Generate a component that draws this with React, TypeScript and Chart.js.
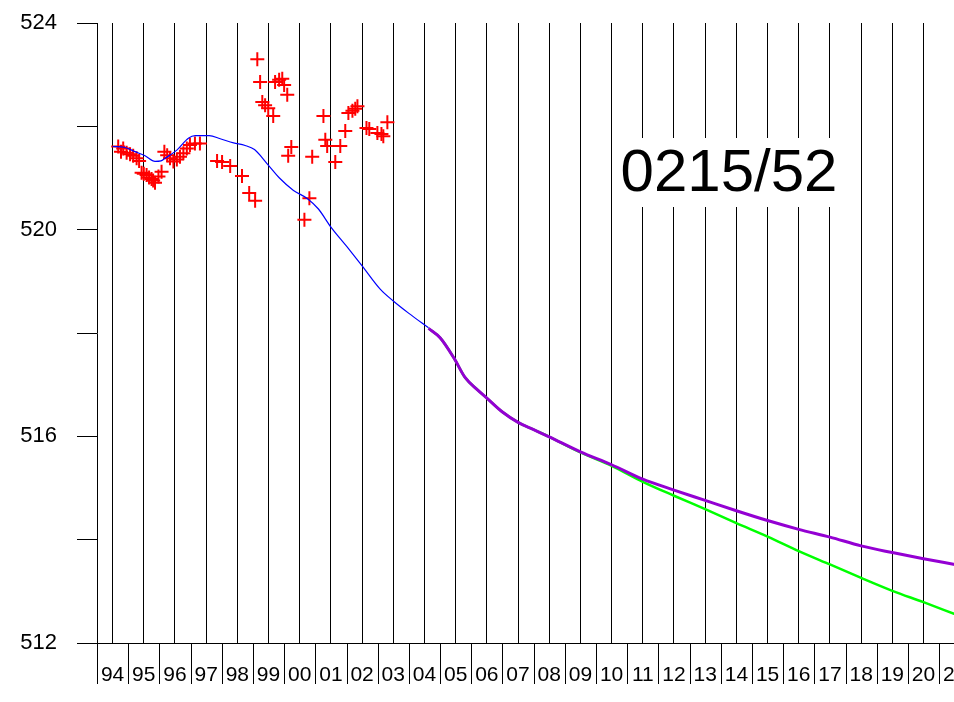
import { useEffect, useRef } from 'react';
import { Chart, registerables } from 'chart.js';

Chart.register(...registerables);

const FONT = "'Liberation Sans', Arial, sans-serif";

// Year categories along the bottom (label centres sit at i + 0.5 on the year axis)
const yearLabels = ['94', '95', '96', '97', '98', '99', '00', '01', '02', '03', '04', '05', '06', '07', '08', '09', '10', '11', '12', '13', '14', '15', '16', '17', '18', '19', '20', '21'];
// Labelled y ticks (others are unlabelled minor ticks)
const yLabelled = [512, 516, 520, 524];
const wellId = '0215/52';

// Simulated (calibration) curve - blue
const blueT = [0.5, 0.9, 1.22, 1.54, 1.86, 2.05, 2.18, 2.56, 2.93, 3.15, 3.6, 3.95, 4.38, 4.75, 5.05, 5.45, 5.85, 6.3, 6.75, 7.1, 7.5, 8.0, 8.5, 9.08, 9.5, 10.0, 10.63];
const blueV = [521.61, 521.59, 521.51, 521.43, 521.32, 521.33, 521.38, 521.54, 521.77, 521.82, 521.82, 521.76, 521.68, 521.63, 521.55, 521.28, 521.0, 520.76, 520.6, 520.4, 520.05, 519.68, 519.3, 518.85, 518.62, 518.38, 518.1];

// Prognosis A - purple
const purpleT = [10.63, 11.0, 11.45, 11.8, 12.2, 12.5, 13.0, 13.5, 14.0, 14.5, 15.5, 16.5, 17.5, 18.5, 19.5, 20.5, 21.5, 22.5, 23.5, 24.5, 25.5, 26.5, 27.5];
const purpleV = [518.09, 517.91, 517.51, 517.14, 516.9, 516.74, 516.47, 516.27, 516.13, 515.99, 515.7, 515.45, 515.17, 514.96, 514.76, 514.56, 514.37, 514.2, 514.05, 513.88, 513.75, 513.63, 513.52];

// Prognosis B - green
const greenT = [10.63, 11.0, 11.45, 11.8, 12.2, 12.5, 13.0, 13.5, 14.0, 14.5, 15.5, 16.5, 17.5, 18.5, 19.5, 20.5, 21.5, 22.5, 23.5, 24.5, 25.5, 26.5, 27.5];
const greenV = [518.09, 517.91, 517.51, 517.14, 516.9, 516.74, 516.47, 516.27, 516.13, 515.99, 515.69, 515.43, 515.12, 514.85, 514.59, 514.32, 514.06, 513.78, 513.52, 513.26, 513.01, 512.79, 512.56];

// Observed heads - red crosses
const obsT = [0.68, 0.84, 0.77, 0.95, 1.06, 1.16, 1.27, 1.35, 1.43, 1.5, 1.59, 1.67, 1.75, 1.8, 1.86, 1.97, 2.07, 2.16, 2.25, 2.34, 2.45, 2.56, 2.66, 2.77, 2.88, 2.98, 3.14, 3.3,
  3.85, 4.01, 4.27, 4.65, 4.88, 5.07,
  5.14, 5.23, 5.71, 5.84, 5.94, 6.0, 6.1, 5.3, 5.39, 5.49, 5.65,
  6.23, 6.13, 6.9, 6.81, 6.65, 7.26, 7.32, 7.38, 7.8, 7.64, 7.96, 8.06, 8.19, 8.28, 8.35, 8.64, 8.73, 8.99, 9.12, 9.18, 9.31];
const obsV = [521.61, 521.57, 521.51, 521.49, 521.46, 521.43, 521.38, 521.33, 521.1, 521.08, 521.06, 521.01, 520.98, 520.95, 520.91, 521.03, 521.12, 521.51, 521.44, 521.38, 521.32, 521.36, 521.41, 521.48, 521.57, 521.64, 521.67, 521.67,
  521.33, 521.31, 521.23, 521.04, 520.71, 520.56,
  523.3, 522.86, 522.86, 522.9, 522.92, 522.8, 522.61, 522.47, 522.41, 522.35, 522.2,
  521.6, 521.43, 521.41, 520.61, 520.19, 522.2, 521.74, 521.62, 521.62, 521.31, 521.91, 522.26, 522.3, 522.34, 522.39, 521.97, 521.95, 521.87, 521.85, 521.81, 522.08];

const pts = (t: number[], v: number[]) => t.map((x, i) => ({ x, y: v[i] }));

const decorPlugin = {
  id: 'decor',
  afterDraw(chart: any) {
    const { ctx, chartArea, scales } = chart;
    const xs = scales.x;
    ctx.save();
    // year separators below the axis
    ctx.strokeStyle = '#000';
    ctx.lineWidth = 1;
    for (let k = 0; k <= yearLabels.length; k++) {
      const px = Math.round(xs.getPixelForValue(k)) + 0.5;
      ctx.beginPath();
      ctx.moveTo(px, chartArea.bottom);
      ctx.lineTo(px, chartArea.bottom + 41);
      ctx.stroke();
    }
    // well id label with white box
    ctx.fillStyle = '#fff';
    ctx.fillRect(613, 138, 233, 69);
    ctx.fillStyle = '#000';
    ctx.font = `60px ${FONT}`;
    ctx.textAlign = 'center';
    ctx.textBaseline = 'middle';
    ctx.fillText(wellId, 729, 174);
    ctx.restore();
  },
};

export default function App() {
  const ref = useRef<HTMLCanvasElement>(null);
  useEffect(() => {
    const chart = new Chart(ref.current!, {
      type: 'line',
      data: {
        datasets: [
          {
            data: pts(blueT, blueV),
            borderColor: '#0000ff',
            borderWidth: 1.2,
            pointRadius: 0,
            cubicInterpolationMode: 'monotone',
            fill: false,
          },
          {
            data: pts(purpleT, purpleV),
            borderColor: '#9400d3',
            borderWidth: 3,
            pointRadius: 0,
            cubicInterpolationMode: 'monotone',
            fill: false,
          },
          {
            data: pts(greenT, greenV),
            borderColor: '#00ff00',
            borderWidth: 2.5,
            pointRadius: 0,
            cubicInterpolationMode: 'monotone',
            fill: false,
          },
          {
            type: 'scatter',
            data: pts(obsT, obsV),
            showLine: false,
            pointStyle: 'cross',
            pointRadius: 7,
            pointBorderWidth: 2,
            borderColor: '#ff0000',
            backgroundColor: '#ff0000',
            borderWidth: 2,
          } as any,
        ],
      },
      options: {
        responsive: false,
        animation: false,
        devicePixelRatio: 1,
        layout: { padding: { top: 23, right: 45.3, left: 0, bottom: 0 } },
        plugins: { legend: { display: false }, tooltip: { enabled: false } },
        scales: {
          x: {
            type: 'linear',
            min: 0,
            max: 27.5,
            afterBuildTicks: (s: any) => {
              s.ticks = yearLabels.map((_, i) => ({ value: i + 0.5 }));
            },
            afterFit: (s: any) => {
              s.height = 59;
              s.paddingLeft = 0;
              s.paddingRight = 0;
            },
            grid: { color: '#000', lineWidth: 1, drawTicks: false, drawOnChartArea: true },
            border: { display: true, color: '#000', width: 1 },
            ticks: {
              autoSkip: false,
              maxRotation: 0,
              minRotation: 0,
              padding: 20,
              color: '#000',
              font: { family: FONT, size: 21 },
              callback: (_v: any, i: number) => yearLabels[i],
            },
          },
          y: {
            type: 'linear',
            min: 512,
            max: 524,
            afterFit: (s: any) => {
              s.width = 97;
              s.paddingTop = 0;
              s.paddingBottom = 0;
            },
            grid: { color: '#000', lineWidth: 1, drawOnChartArea: false, drawTicks: true, tickLength: 20 },
            border: { display: true, color: '#000', width: 1 },
            ticks: {
              stepSize: 2,
              padding: 20,
              color: '#000',
              font: { family: FONT, size: 22 },
              callback: (v: any) => (yLabelled.includes(Number(v)) ? String(v) : ''),
            },
          },
        },
      },
      plugins: [decorPlugin],
    } as any);
    return () => chart.destroy();
  }, []);
  return (
    <div style={{ position: 'fixed', left: 0, top: 0, width: 954, height: 702, overflow: 'hidden', background: '#fff' }}>
      <canvas ref={ref} width={1000} height={702} style={{ display: 'block', width: 1000, height: 702 }} />
    </div>
  );
}
